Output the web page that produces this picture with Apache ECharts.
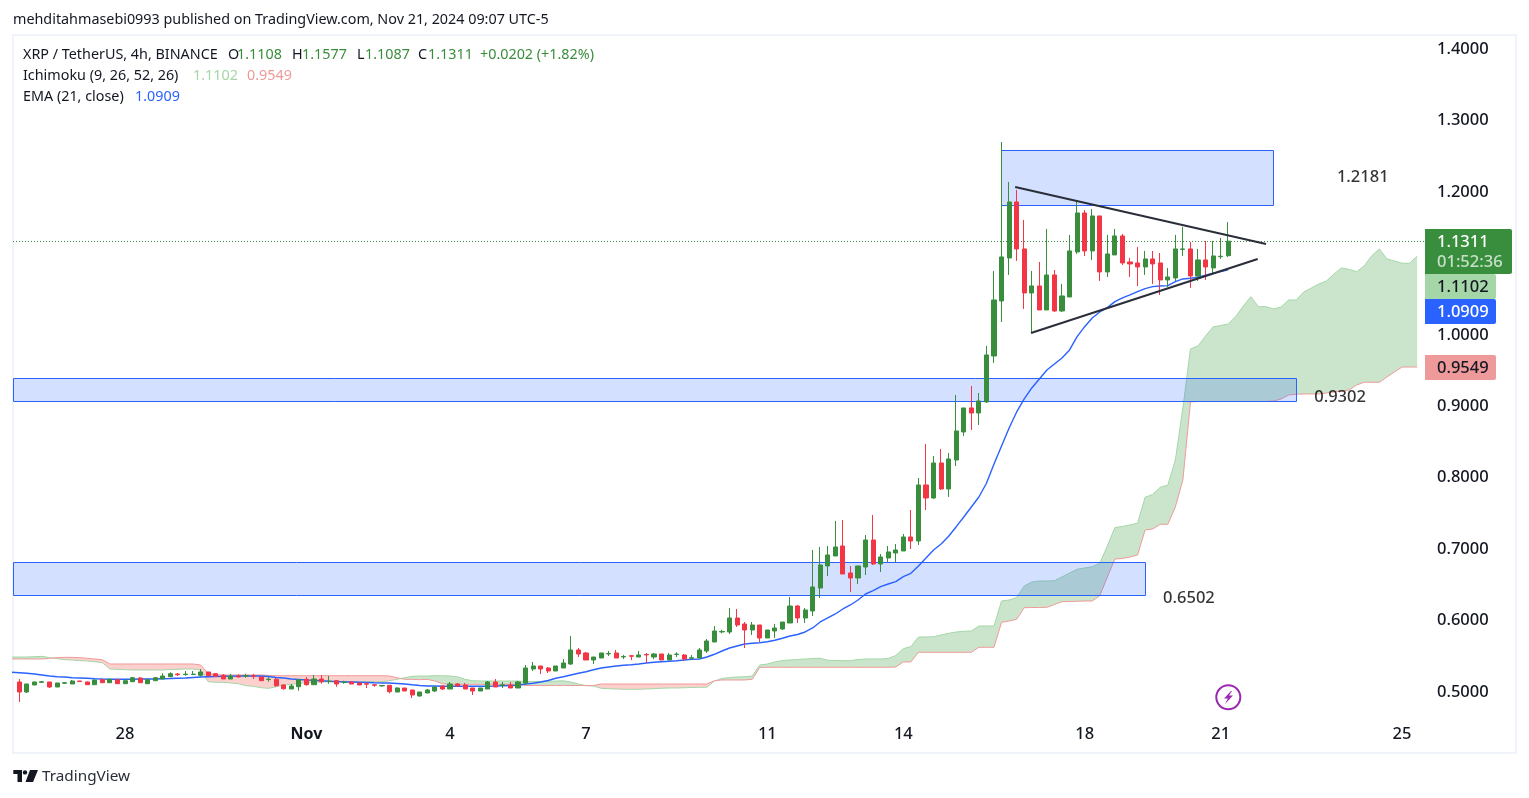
<!DOCTYPE html>
<html><head><meta charset="utf-8">
<style>html,body{margin:0;padding:0;background:#fff}#c{width:1529px;height:798px}</style>
<script src="https://cdn.jsdelivr.net/npm/echarts@6/dist/echarts.min.js"></script>
</head><body><div id="c"></div>
<script>
// candles, bar 0 .. bar 160 (4h bars)
const opens=[.514,.5,.5098,.5136,.514,.507,.5122,.5112,.5154,.514,
.5102,.5172,.513,.5172,.5116,.5144,.5196,.5116,.5158,.5182,
.5214,.5252,.5244,.5244,.5234,.528,.5256,.5234,.5182,.5224,
.5224,.5228,.521,.5174,.5178,.5098,.5042,.5074,.5178,.5102,
.5182,.5146,.5158,.5133,.514,.5126,.5115,.5101,.5085,.5094,
.5,.5056,.5028,.4944,.4986,.5014,.5084,.5042,.5112,.5098,
.5056,.5014,.5042,.514,.5095,.5098,.5056,.5126,.5322,.5364,
.5336,.5294,.5336,.5392,.5588,.5546,.5448,.5476,.5533,.5546,
.5491,.5507,.549,.5525,.549,.5532,.5448,.5525,.5518,.5473,
.5476,.5574,.57,.5841,.584,.6036,.5952,.5868,.5938,.5756,
.5854,.5882,.5966,.6204,.6036,.6134,.6456,.6764,.6904,.7044,
.6666,.6596,.675,.7128,.6792,.6876,.6946,.6974,.717,.7114,
.7898,.7716,.8206,.7842,.8248,.864,.8976,.8906,.906,.9704,
1.0474,1.1076,1.186,1.1202,1.0586,1.0684,1.0348,1.0838,1.0334,1.053,
1.116,1.1706,1.1174,1.1664,1.088,1.1118,1.1384,1.102,1.1006,1.095,
1.1062,1.1006,1.0768,1.0796,1.1196,1.1202,1.0824,1.1048,1.0936,1.1094,
1.1108];
const closes=[.5,.5112,.514,.5144,.507,.5126,.513,.5154,.5146,.5102,
.5168,.513,.5178,.5116,.5158,.52,.513,.5172,.52,.5224,
.5256,.5242,.525,.525,.528,.5228,.522,.5182,.5224,.521,
.523,.5222,.5158,.518,.5088,.5046,.5084,.5172,.5102,.5182,
.5144,.5152,.5112,.5139,.5112,.5098,.5109,.5095,.5091,.5004,
.5056,.5014,.4958,.5,.5028,.507,.5042,.5112,.5084,.5042,
.5014,.5056,.514,.507,.5101,.5056,.514,.5336,.5364,.5322,
.5294,.5364,.5406,.5588,.5532,.5448,.549,.5546,.5539,.5476,
.5497,.5501,.5518,.5519,.5532,.5448,.5518,.5531,.5462,.5479,
.5588,.5714,.5854,.5847,.6036,.5938,.5868,.5938,.5756,.5868,
.5896,.598,.6204,.6036,.6148,.647,.6778,.6918,.703,.6652,
.6596,.6764,.7128,.6792,.689,.696,.6988,.717,.7114,.7898,
.7716,.8206,.7842,.8262,.8654,.8976,.8906,.9074,.9718,1.0488,
1.109,1.186,1.1202,1.0586,1.0684,1.0348,1.0838,1.0334,1.0544,1.1174,
1.1706,1.1174,1.1664,1.088,1.1132,1.1384,1.1006,1.0992,1.095,1.1062,
1.0992,1.0768,1.081,1.1202,1.1202,1.0824,1.1048,1.095,1.1104,1.11,
1.1311];
const highs=[.5182,.5112,.5147,.5154,.514,.5126,.514,.5168,.5154,.5147,
.5168,.5172,.5186,.5172,.5178,.521,.521,.5182,.521,.5262,
.5276,.5266,.5294,.5294,.5322,.528,.5266,.5252,.5252,.5248,
.5256,.5252,.5224,.5206,.5196,.5108,.5112,.5172,.521,.5238,
.5238,.5224,.5168,.5158,.515,.5126,.5136,.5112,.5098,.5094,
.5066,.5056,.5028,.5,.5042,.507,.5094,.514,.5126,.5126,
.5056,.5056,.5154,.5182,.514,.514,.5154,.5378,.542,.5364,
.535,.5364,.5462,.5784,.5616,.556,.549,.5546,.5574,.5588,
.5518,.5518,.5574,.5546,.5546,.5532,.5546,.5556,.5532,.5518,
.5616,.5742,.5924,.5872,.6176,.6162,.598,.598,.5938,.5868,
.5952,.598,.633,.6218,.6176,.6988,.703,.7044,.7394,.7408,
.6764,.6764,.7198,.7478,.6932,.7044,.7072,.7212,.7548,.7996,
.8472,.8304,.8402,.8346,.9158,.8976,.9284,.9186,.9844,1.0894,
1.27,1.214,1.2028,1.1608,1.0894,1.102,1.1482,1.0908,1.0712,1.1398,
1.186,1.1748,1.1762,1.1664,1.1398,1.1482,1.1412,1.1076,1.123,1.1174,
1.1174,1.1146,1.0936,1.1398,1.151,1.13,1.1202,1.1314,1.1314,1.1356,
1.1577];
const lows=[.486,.4986,.5098,.5126,.5056,.507,.5112,.5112,.5146,.5098,
.5102,.513,.513,.5116,.5116,.5144,.513,.5112,.5158,.5182,
.5214,.5224,.5228,.5238,.5214,.5228,.522,.5182,.5182,.521,
.52,.5182,.5158,.5144,.5074,.5032,.5042,.5018,.5088,.5102,
.5116,.5116,.5074,.5116,.5112,.5098,.5056,.5074,.5074,.4982,
.5,.5014,.4916,.4934,.4986,.5,.5028,.5042,.5084,.5042,
.4958,.5014,.5042,.507,.5056,.5056,.5056,.5098,.5294,.5252,
.5266,.5294,.5336,.5378,.549,.5448,.5392,.5476,.5504,.5476,
.5462,.5448,.549,.5406,.5462,.5448,.5448,.549,.5434,.5448,
.5476,.5546,.57,.5822,.5812,.591,.5616,.5798,.57,.5756,
.5756,.5868,.5966,.5966,.5966,.6064,.6316,.6624,.6904,.6652,
.64,.6512,.6638,.6778,.668,.682,.682,.6974,.7002,.7058,
.7548,.7702,.7828,.773,.8164,.8584,.8668,.8738,.9046,.9606,
1.018,1.0838,1.1034,1.0362,1.0026,1.0348,1.0348,1.032,1.032,1.053,
1.1132,1.1104,1.1048,1.0754,1.081,1.1118,1.0978,1.081,1.0684,1.0838,
1.0712,1.0558,1.067,1.0754,1.1104,1.0656,1.0754,1.0768,1.0852,1.1062,
1.1087];
// EMA(21), bar -1 .. bar 160
const ema=[.5276,.527,.5262,.5252,.5238,.5224,.5214,.521,.52,.5196,.5192,
.5186,.5182,.5179,.5178,.5178,.5179,.5182,.5182,.5182,.5186,
.5189,.5193,.5196,.5203,.521,.5214,.5217,.522,.5221,.5224,
.5224,.5224,.5224,.5217,.5203,.5196,.5182,.5175,.5168,.5164,
.5157,.5151,.5147,.514,.514,.5137,.5133,.5129,.5126,.5126,
.5119,.5112,.5101,.5091,.5084,.5084,.5081,.508,.508,.508,
.508,.508,.5081,.5084,.5088,.5091,.5094,.5112,.5122,.514,
.5161,.5192,.5214,.5238,.5262,.5284,.5312,.5336,.535,.5364,
.5374,.5382,.5392,.5406,.5416,.5424,.5431,.5438,.5448,.5458,
.5462,.549,.5528,.5574,.5616,.5644,.5672,.5682,.569,.5704,
.5724,.5752,.5784,.5805,.584,.5896,.598,.6036,.6092,.6162,
.6218,.6288,.6372,.6418,.6474,.6512,.6544,.6614,.6662,.6764,
.6876,.6988,.7072,.718,.7314,.745,.759,.773,.7922,.8192,
.8444,.8696,.892,.9102,.9256,.9382,.9508,.9592,.9676,.9788,
.9974,1.0114,1.0236,1.032,1.038,1.0464,1.0516,1.0558,1.0604,1.0646,
1.0674,1.0684,1.0688,1.0744,1.0782,1.0792,1.0806,1.0834,1.0862,1.0884,
1.0909];
// Ichimoku leading spans, bar -1 .. bar 185
const spanA=[.549,.549,.549,.5495,.5499,.5481,.5467,.5452,.5448,.5438,
.5434,.5424,.541,.5322,.5317,.5312,.5308,.5308,.5308,.5308,
.5308,.5317,.5317,.5322,.5322,.5308,.5144,.5135,.5135,.5126,
.5116,.5088,.5079,.506,.5051,.5074,.5098,.5107,.5121,.513,
.5135,.514,.5144,.5144,.5144,.5144,.5144,.5144,.5144,.5144,
.5158,.5177,.52,.5219,.5224,.5224,.5228,.5228,.5224,.5214,
.5177,.5158,.5154,.5154,.5154,.5154,.5154,.5154,.5146,.5147,
.5148,.515,.5153,.5157,.514,.5112,.5088,.5084,.5052,.5046,
.5042,.5038,.5038,.5038,.5042,.5046,.5052,.5056,.5056,.506,
.5063,.5066,.5066,.5154,.5189,.5203,.521,.5214,.5224,.5378,
.5392,.542,.5441,.5448,.5455,.5462,.5469,.5472,.5444,.5441,
.5438,.5438,.5455,.5462,.5462,.5462,.5469,.5511,.5606,.5637,
.577,.577,.5774,.5798,.5822,.584,.585,.5854,.5924,.5924,
.5924,.6274,.6288,.6323,.6484,.654,.6554,.6554,.6558,.661,
.6666,.6718,.6736,.6754,.6802,.7044,.7303,.7317,.7338,.7362,
.7726,.7765,.7866,.7894,.8248,.8976,.9802,.9844,.9984,1.011,
1.0131,1.0152,1.0257,1.0404,1.0534,1.0394,1.0394,1.0362,1.039,1.0488,
1.0488,1.06,1.0656,1.0712,1.0754,1.0852,1.0936,1.0915,1.0884,1.0964,
1.1108,1.1202,1.1062,1.1034,1.1002,1.1002,1.1102];
const spanB=[.5462,.5462,.5462,.5462,.5462,.5471,.5481,.5485,.5485,.5481,
.5471,.5462,.5452,.5392,.5392,.5392,.5392,.5392,.5392,.5392,
.5392,.5392,.5392,.5392,.5392,.5378,.5261,.5242,.5238,.5238,
.5238,.5238,.5238,.5238,.5233,.5228,.5228,.5228,.5228,.5228,
.5228,.5228,.5228,.5228,.5228,.5228,.5228,.5228,.5228,.5228,
.5224,.52,.5177,.5177,.5172,.5177,.5154,.5116,.5107,.5107,
.5107,.5107,.5107,.5107,.5107,.5107,.5107,.5107,.5091,.5091,
.5091,.5091,.5091,.5091,.5091,.5091,.5091,.5091,.5112,.5112,
.5112,.5112,.5112,.5112,.5112,.5112,.5112,.5112,.5112,.5112,
.5112,.5112,.5112,.5158,.5168,.5168,.5168,.5168,.5178,.5343,
.5346,.5346,.5346,.5346,.5346,.5346,.5346,.5346,.5346,.5346,
.5346,.5346,.5346,.5346,.5346,.5346,.5346,.535,.542,.542,
.5556,.5556,.5556,.5556,.5556,.5556,.5556,.5556,.5626,.5626,
.5626,.5976,.5994,.6018,.618,.6183,.6183,.6186,.6225,.6264,
.6267,.627,.6274,.6274,.6348,.661,.6862,.6869,.689,.6918,
.7268,.7282,.7348,.7348,.759,.7968,.906,.9067,.9067,.9067,
.9067,.9067,.9067,.9067,.9067,.9067,.9067,.9074,.9102,.9158,
.9168,.9172,.9172,.9172,.9186,.92,.9214,.9228,.9298,.9336,
.9336,.9336,.941,.948,.9549,.9549,.9549];
// axis
const priceTicks=[.5,.6,.7,.8,.9,1,1.2,1.3,1.4];
const timeTickBars=[14,38,57,75,99,117,141,159,183];
const timeTickLabels=['28','Nov','4','7','11','14','18','21','25'];
// drawings: [bar from, bar to, top price, bottom price]
const zoneBarFrom=[129.9,-0.83,-0.83];
const zoneBarTo=[165.9,169,149];
const zoneTop=[1.2587,.9395,.682];
const zoneBottom=[1.1817,.9073,.6358];
const trendUpper=[[131.8,1.2069],[165,1.1271]];
const trendLower=[[133.9,1.0025],[163.9,1.1061]];
const noteBars=[177.8,174.8,154.8];
const notePrices=[1.2209,.9129,.6316];
const noteTexts=['1.2181','0.9302','0.6502'];

const FONT='"Noto Sans"';
const TEXT='#131722', UP='#388e3c', DOWN='#f23645', BLUE='#2962ff', GREENL='#a5d6a7', REDL='#ef9a9a';

const candles=opens.map((o,i)=>[i,o,closes[i],lows[i],highs[i]]);
// contiguous runs of the same sign, split where the spans cross
const cloudRuns=[];
(function(){
  let cur=null;
  for(let i=0;i<spanA.length;i++){
    const x=i-1,a=spanA[i],b=spanB[i],s=a>=b;
    if(cur&&cur.s!==s){
      const pa=spanA[i-1],pb=spanB[i-1],t=(pa-pb)/((pa-pb)-(a-b));
      const cx=x-1+t,cy=pa+(a-pa)*t;
      cur.top.push([cx,cy]);cur.bot.push([cx,cy]);cloudRuns.push(cur);
      cur={s,top:[[cx,cy]],bot:[[cx,cy]]};
    }
    if(!cur)cur={s,top:[],bot:[]};
    cur.top.push([x,a]);cur.bot.push([x,b]);
  }
  cloudRuns.push(cur);
})();

const chart=echarts.init(document.getElementById('c'),null,{renderer:'canvas'});
function txt(x,y,s,fill,size,weight){return {type:'text',x,y:y+1,silent:true,style:{text:s,fill,font:(weight?weight+' ':'')+(size||14.35)+'px '+FONT,textVerticalAlign:'middle',textAlign:'left'}};}
function pill(y0,y1,w,fill){return {type:'rect',shape:{x:1425,y:y0,width:w,height:y1-y0,r:[0,2,2,0]},style:{fill},silent:true};}
const graphics=[
 {type:'rect',shape:{x:13,y:35,width:1503,height:718},style:{fill:'none',stroke:'#f0f3fa',lineWidth:2},silent:true,z:-1},
 txt(13,19,'mehditahmasebi0993 published on TradingView.com, Nov 21, 2024 09:07 UTC-5',TEXT),
 txt(23,54,'XRP / TetherUS, 4h, BINANCE',TEXT),
 txt(228,54,'O',TEXT),txt(237,54,'1.1108',UP),txt(292,54,'H',TEXT),txt(302,54,'1.1577',UP),
 txt(357,54,'L',TEXT),txt(365,54,'1.1087',UP),txt(418,54,'C',TEXT),txt(428,54,'1.1311',UP),txt(480,54,'+0.0202 (+1.82%)',UP),
 txt(23,75,'Ichimoku (9, 26, 52, 26)',TEXT),txt(193,75,'1.1102',GREENL),txt(247,75,'0.9549',REDL),
 txt(23,96,'EMA (21, close)',TEXT),txt(135,96,'1.0909',BLUE),
 pill(229,274,87,UP),txt(1437,241,'1.1311','#fff',16.5,500),txt(1437,261,'01:52:36','rgba(255,255,255,.72)',16.5,500),
 pill(274,299,71,GREENL),txt(1437,286,'1.1102',TEXT,16.5,500),
 pill(299,324,71,BLUE),txt(1437,311,'1.0909','#fff',16.5,500),
 pill(355,380,71,REDL),txt(1437,367,'0.9549',TEXT,16.5,500),
 // lightning badge
 {type:'circle',shape:{cx:1228.3,cy:697.3,r:12},style:{fill:'none',stroke:'#9c27b0',lineWidth:2},silent:true},
 {type:'polygon',shape:{points:[[1231,691],[1224,698.5],[1227.8,698.5],[1225,704],[1233,695.5],[1229,695.5],[1232,691]]},style:{fill:'#9c27b0'},silent:true},
 // TradingView mark
 {type:'polygon',shape:{points:[[13.3,770],[22,770],[22,782],[17.5,782],[17.5,774],[13.3,774]]},style:{fill:TEXT},silent:true},
 {type:'circle',shape:{cx:25,cy:772.4,r:2.2},style:{fill:TEXT},silent:true},
 {type:'polygon',shape:{points:[[30,770],[38,770],[33,782],[25.5,782]]},style:{fill:TEXT},silent:true},
 txt(42,776,'TradingView','#2a2e39',15.3)
];

chart.setOption({
 animation:false,backgroundColor:'#fff',
 textStyle:{fontFamily:FONT},
 grid:{left:13,top:35,width:1412,height:681,containLabel:false},
 xAxis:{type:'value',min:-0.83,max:186.04,scale:true,
  axisLine:{show:false},axisTick:{show:false},splitLine:{show:false},
  axisLabel:{customValues:timeTickBars,margin:10,fontSize:16.5,fontWeight:500,color:TEXT,fontFamily:FONT,
   formatter:v=>{const l=timeTickLabels[timeTickBars.indexOf(v)]||'';return l==='Nov'?'{b|Nov}':l;},
   rich:{b:{fontWeight:'bold',fontSize:16,color:TEXT,fontFamily:FONT}}}},
 yAxis:{type:'value',position:'right',min:.4664,max:1.4197,scale:true,
  axisLine:{show:false},axisTick:{show:false},splitLine:{show:false},
  axisLabel:{customValues:priceTicks,margin:12,padding:[4,0,0,0],fontSize:16.5,fontWeight:500,color:TEXT,fontFamily:FONT,formatter:v=>v.toFixed(4)}},
 graphic:{elements:graphics},
 series:[
  {type:'custom',name:'cloud',z:1,clip:true,silent:true,data:cloudRuns.map((r,i)=>[i,0]),
   encode:{x:0,y:1},
   renderItem(p,api){const r=cloudRuns[p.dataIndex];
     const pts=r.top.concat(r.bot.slice().reverse()).map(d=>api.coord(d));
     return {type:'polygon',shape:{points:pts},style:{fill:r.s?'rgba(67,160,71,.28)':'rgba(244,67,54,.25)'}};}},
  {type:'line',name:'Span A',z:2,data:spanA.map((v,i)=>[i-1,v]),showSymbol:false,silent:true,lineStyle:{color:GREENL,width:1}},
  {type:'line',name:'Span B',z:2,data:spanB.map((v,i)=>[i-1,v]),showSymbol:false,silent:true,lineStyle:{color:REDL,width:1}},
  {type:'custom',name:'zones',z:3,clip:true,silent:true,data:zoneTop.map((t,i)=>[zoneBarFrom[i],t]),encode:{x:0,y:1},
   renderItem(p,api){const i=p.dataIndex,a=api.coord([zoneBarFrom[i],zoneTop[i]]),b=api.coord([zoneBarTo[i],zoneBottom[i]]);
     return {type:'rect',shape:{x:Math.round(a[0])+.5,y:Math.round(a[1])+.5,width:Math.round(b[0]-a[0]),height:Math.round(b[1]-a[1])},style:{fill:'rgba(41,98,255,.2)',stroke:BLUE,lineWidth:1}};}},
  {type:'line',name:'EMA',z:4,data:ema.map((v,i)=>[i-1,v]),showSymbol:false,silent:true,lineStyle:{color:BLUE,width:1.4}},
  {type:'candlestick',name:'XRP',z:5,barWidth:4.6,silent:true,data:candles,
   itemStyle:{color:UP,color0:DOWN,borderColor:UP,borderColor0:DOWN,borderWidth:1},
   markLine:{silent:true,symbol:'none',precision:4,label:{show:false},data:[{yAxis:closes[closes.length-1]}],
    lineStyle:{type:[1,2],color:UP,width:1}}},
  {type:'line',name:'trend upper',z:6,data:trendUpper,showSymbol:false,silent:true,lineStyle:{color:'#2a2e39',width:2}},
  {type:'line',name:'trend lower',z:6,data:trendLower,showSymbol:false,silent:true,lineStyle:{color:'#2a2e39',width:2}},
  {type:'scatter',name:'notes',z:7,symbolSize:1,silent:true,itemStyle:{color:'rgba(0,0,0,0)'},
   data:noteBars.map((b,i)=>[b,notePrices[i]]),
   label:{show:true,position:'inside',fontSize:16.5,fontWeight:500,color:'#000',fontFamily:FONT,formatter:p=>noteTexts[p.dataIndex]}}
 ]
});
</script></body></html>
